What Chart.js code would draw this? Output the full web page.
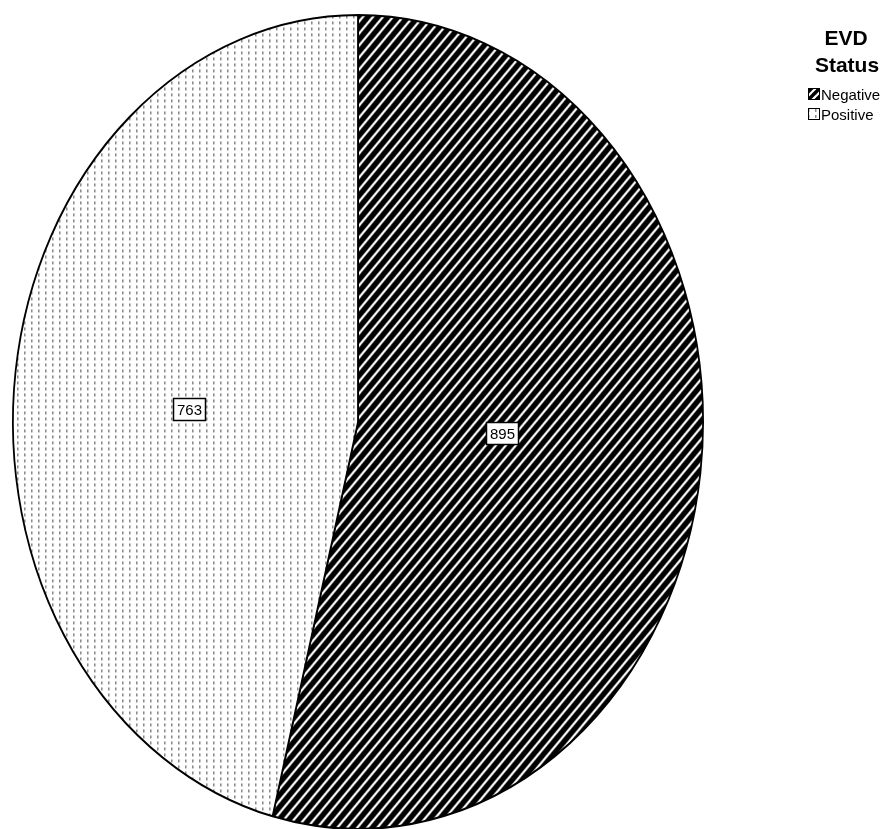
<!DOCTYPE html>
<html>
<head>
<meta charset="utf-8">
<script src="https://cdn.jsdelivr.net/npm/chart.js@4.4.0/dist/chart.umd.min.js"></script>
<style>
html,body{margin:0;padding:0;background:#fff;}
#wrap{width:885px;height:829px;position:relative;}
</style>
</head>
<body>
<div id="wrap"><canvas id="c" width="885" height="829"></canvas></div>
<script>
const categories = ['Negative', 'Positive'];
const counts = [895, 763];
const legendTitle = ['EVD', 'Status'];

const K = 408 / 346; // vertical stretch of the pie into an ellipse

function hatchPattern(ctx, w, h, lw) {
  const t = document.createElement('canvas');
  t.width = w; t.height = h;
  const g = t.getContext('2d');
  g.fillStyle = '#000'; g.fillRect(0, 0, w, h);
  g.strokeStyle = '#fff'; g.lineWidth = lw;
  const s = h / w;
  for (const o of [-w, 0, w]) {
    g.beginPath(); g.moveTo(o - 1, h + s); g.lineTo(o + w + 1, -s); g.stroke();
  }
  return ctx.createPattern(t, 'repeat');
}
function dotPattern(ctx) {
  const t = document.createElement('canvas');
  t.width = 7; t.height = 6;
  const g = t.getContext('2d');
  g.fillStyle = '#fff'; g.fillRect(0, 0, 7, 6);
  g.fillStyle = '#8a8a8a'; g.fillRect(3, 1, 1.5, 3);
  return ctx.createPattern(t, 'repeat');
}

const canvas = document.getElementById('c');
const ctx0 = canvas.getContext('2d');
const pats = [hatchPattern(ctx0, 10, 12, 2.2), dotPattern(ctx0)];
pats.forEach(p => p.setTransform(new DOMMatrix().scale(1, 1 / K)));
const legendPats = [hatchPattern(ctx0, 8, 8, 2.2), dotPattern(ctx0)];

const ellipsePlugin = {
  id: 'ellipse',
  beforeDatasetsDraw(chart) {
    const a = chart.getDatasetMeta(0).data[0];
    const ctx = chart.ctx;
    ctx.save();
    ctx.translate(a.x, a.y);
    ctx.scale(1, K);
    ctx.translate(-a.x, -a.y);
  },
  afterDatasetsDraw(chart) {
    const ctx = chart.ctx;
    ctx.restore();
    // value labels, placed near the sector centroid
    const meta = chart.getDatasetMeta(0);
    ctx.save();
    ctx.font = '15px "Liberation Sans", Arial, sans-serif';
    ctx.textAlign = 'center';
    ctx.textBaseline = 'middle';
    meta.data.forEach((arc, i) => {
      const half = (arc.endAngle - arc.startAngle) / 2;
      const mid = arc.startAngle + half;
      const r = 1.08 * 2 * arc.outerRadius * Math.sin(half) / (3 * half);
      const x = arc.x + Math.cos(mid) * r;
      const y = arc.y + Math.sin(mid) * r * K * 0.5;
      const txt = String(chart.data.datasets[0].data[i]);
      const w = Math.round(ctx.measureText(txt).width + 7);
      const h = 22;
      const bx = Math.round(x - w / 2), by = Math.round(y - h / 2);
      ctx.fillStyle = '#fff';
      ctx.fillRect(bx, by, w, h);
      ctx.strokeStyle = '#000'; ctx.lineWidth = 1.5;
      ctx.strokeRect(bx + 0.5, by + 0.5, w, h);
      ctx.fillStyle = '#000';
      ctx.fillText(txt, bx + w / 2 + 0.5, by + h / 2 + 1.5);
    });
    // legend
    ctx.textAlign = 'center';
    ctx.textBaseline = 'alphabetic';
    ctx.font = 'bold 21px "Liberation Sans", Arial, sans-serif';
    ctx.fillText(legendTitle[0], 846, 45);
    ctx.fillText(legendTitle[1], 847, 72);
    ctx.textAlign = 'left';
    ctx.font = '15px "Liberation Sans", Arial, sans-serif';
    chart.data.labels.forEach((lab, i) => {
      const y = 88 + i * 20;
      ctx.fillStyle = legendPats[i];
      ctx.fillRect(808, y, 12, 12);
      ctx.strokeStyle = '#000'; ctx.lineWidth = 1;
      ctx.strokeRect(808.5, y + 0.5, 11, 11);
      ctx.fillStyle = '#000';
      ctx.fillText(lab, 821, y + 12);
    });
    ctx.restore();
  }
};

new Chart(canvas, {
  type: 'pie',
  data: {
    labels: categories,
    datasets: [{
      data: counts,
      backgroundColor: pats,
      borderColor: '#000',
      borderWidth: 1.8,
      hoverOffset: 0
    }]
  },
  options: {
    responsive: false,
    animation: false,
    events: [],
    layout: { padding: { left: 12, right: 181, top: 76, bottom: 61 } },
    plugins: { legend: { display: false }, tooltip: { enabled: false } }
  },
  plugins: [ellipsePlugin]
});
</script>
</body>
</html>
